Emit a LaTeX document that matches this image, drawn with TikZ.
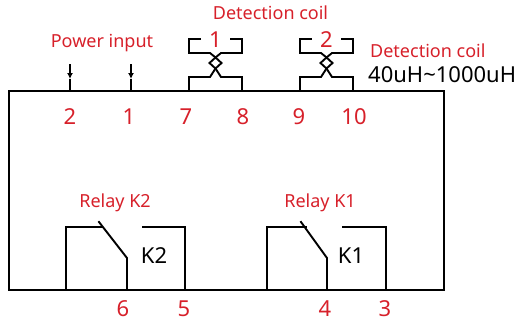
\documentclass[tikz,border=0pt]{standalone}
\usepackage{fontspec}
\setmainfont{Noto Sans}
\usetikzlibrary{arrows.meta}
\definecolor{lblred}{RGB}{215,32,42}
\tikzset{
  wire/.style={line width=1.9pt, line cap=rect, line join=miter},
  redlbl/.style={text=lblred, font=\fontsize{18}{18}\selectfont, inner sep=0pt, anchor=base},
  pinlbl/.style={text=lblred, font=\fontsize{22}{22}\selectfont, inner sep=0pt, anchor=base},
  blklbl/.style={text=black, font=\fontsize{22}{22}\selectfont, inner sep=0pt, anchor=base},
}
\newcommand{\coilshape}[1]{%
  \begin{scope}[xshift=#1pt]
    \draw[wire] (11,39)--(0,39)--(0,53)--(21,53)--(26.5,57.5);
    \draw[wire] (42,39)--(53,39)--(53,53)--(32,53)--(26.5,57.5);
    \draw[wire] (26.5,57.5)--(32.5,63)--(26.5,68.5)--(20.5,63)--cycle;
    \draw[wire] (26.5,68.5)--(21,77)--(0,77)--(0,91);
    \draw[wire] (26.5,68.5)--(32,77)--(53,77)--(53,91);
  \end{scope}}
\begin{document}
\begin{tikzpicture}[x=1pt,y=-1pt]
\useasboundingbox (0,0) rectangle (521,321);
% main box
\coordinate (boxtl) at (9,91);
\coordinate (boxbr) at (444,290);
\draw[wire] (boxtl) rectangle (boxbr);
% power input arrows
\coordinate (pa2) at (70,64);
\coordinate (pa2t) at (70,79);
\coordinate (pa2b) at (70,91);
\coordinate (pa1) at (131,64);
\coordinate (pa1t) at (131,79);
\coordinate (pa1b) at (131,91);
\draw[line width=1.3pt, -{Latex[length=6pt,width=6pt]}] (pa2) -- (pa2t);
\draw[line width=1.3pt] (pa2t) -- (pa2b);
\draw[line width=1.3pt, -{Latex[length=6pt,width=6pt]}] (pa1) -- (pa1t);
\draw[line width=1.3pt] (pa1t) -- (pa1b);
% coils
\coilshape{189}
\coilshape{300}
% relay K2
\draw[wire] (66,290)--(66,227)--(102,227);
\draw[wire] (99,222)--(127,258)--(127,290);
\draw[wire] (143,227)--(185,227)--(185,290);
% relay K1
\draw[wire] (267,290)--(267,227)--(306,227);
\draw[wire] (301,222)--(327,258)--(327,290);
\draw[wire] (343,227)--(386,227)--(386,290);
% labels
\node[redlbl] (dc1) at (270.5,20) {Detection coil};
\node[redlbl] (pwr) at (102,48) {Power input};
\node[pinlbl] (c1) at (215.5,48) {1};
\node[pinlbl] (c2) at (326.5,48) {2};
\node[redlbl, anchor=base west] (dc2) at (370,57) {Detection coil};
\node[blklbl, anchor=base west] (ind) at (368,82) {40uH\char"007E 1000uH};
\node[pinlbl] (n2) at (70,124) {2};
\node[pinlbl] (n1) at (129,124) {1};
\node[pinlbl] (n7) at (186,124) {7};
\node[pinlbl] (n8) at (243,124) {8};
\node[pinlbl] (n9) at (299,124) {9};
\node[pinlbl] (n10) at (354,124) {10};
\node[redlbl] (rk2) at (115,207) {Relay K2};
\node[redlbl] (rk1) at (320,207) {Relay K1};
\node[blklbl] (k2) at (154,263) {K2};
\node[blklbl] (k1) at (351,263) {K1};
\node[pinlbl] (n6) at (123,316) {6};
\node[pinlbl] (n5) at (184,316) {5};
\node[pinlbl] (n4) at (325,316) {4};
\node[pinlbl] (n3) at (385,316) {3};
\end{tikzpicture}
\end{document}
